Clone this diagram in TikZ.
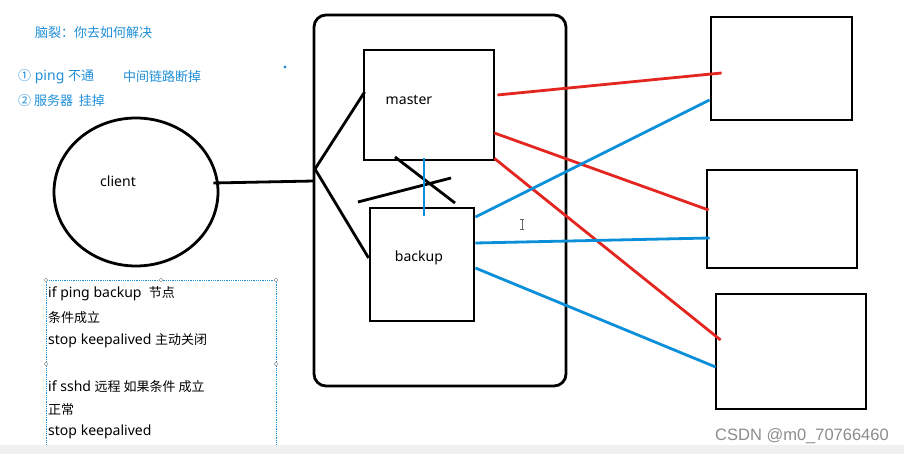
\documentclass[tikz,border=0pt]{standalone}
\usepackage{fontspec}
\setmainfont{Noto Sans}[Scale=1.08]
\newfontfamily\zhfont{Noto Sans CJK SC}
\newcommand\zh[1]{{\zhfont #1}}
\newfontfamily\wmfont{Liberation Sans}
\usepackage{xcolor}
\usetikzlibrary{shapes.geometric}
\definecolor{linkred}{HTML}{E3261F}
\definecolor{linkblue}{HTML}{0B8FD9}
\definecolor{noteblue}{HTML}{1F8FD8}

\begin{document}
\begin{tikzpicture}[x=1pt,y=-1pt,
  box/.style={draw, line width=2.8pt, inner sep=0pt},
  redlink/.style={draw=linkred, line width=2.8pt},
  bluelink/.style={draw=linkblue, line width=2.8pt},
  blackline/.style={line width=2.8pt},
  note/.style={text=noteblue, font=\fontsize{13}{15}\selectfont, anchor=west, inner sep=0pt},
  memo/.style={font=\fontsize{13}{15}\selectfont, anchor=west, inner sep=0pt},
  tag/.style={font=\fontsize{13}{15}\selectfont, inner sep=0pt}]
\useasboundingbox (0,0) rectangle (904,454);
\fill [white] (0,0) rectangle (904,454);

%%memo at the top left
\node [note] (title) at (35,33) {\zh{脑裂：你去如何解决}};
\node [note] (case1) at (18,77) {\zh{①} ping \zh{不通}};
\node [note] (case1b) at (123,77) {\zh{中间链路断掉}};
\node [note] (case2) at (18,101) {\zh{② 服务器\ \ 挂掉}};
\fill [noteblue] (285,67) circle (1.6);
   %a stray dot

%%the cluster
\node [box, rounded corners=12pt, minimum width=252pt, minimum height=371pt] (group) at (440,200.5) {};
   %the big rounded frame
\node [box, minimum width=130pt, minimum height=110pt] (master) at (429,105) {};
\node [box, minimum width=104pt, minimum height=113pt] (backup) at (422,264.5) {};
\node [tag] (mastertxt) at (409,100) {master};
\node [tag] (backuptxt) at (419,258) {backup};

%%client
\node [box, ellipse, minimum width=164pt, minimum height=148pt] (client) at (136,192) {};
\node [tag] (clienttxt) at (118,181) {client};
\coordinate (fork) at (315,169);
\draw [blackline] ([shift={(-6,-9)}]client.east) -- ([shift={(1,-19.5)}]group.west);
\draw [blackline] ([shift={(2,-13)}]master.west) -- (fork) -- ([shift={(0,-6.5)}]backup.west);
   %the fork from client to master and backup
\draw [blackline] (395,157) -- (455,203);
\draw [blackline] (358,202) -- (451,178);
   %the crossed-out heartbeat
\draw [bluelink] ([shift={(-5,-3)}]master.south) -- ([shift={(2,9)}]backup.north);

%%servers on the right
\node [box, minimum width=141pt, minimum height=103pt] (srv1) at (781.5,68.5) {};
\node [box, minimum width=150pt, minimum height=98pt] (srv2) at (782,219) {};
\node [box, minimum width=150pt, minimum height=115pt] (srv3) at (791,351.5) {};
\draw [redlink] ([shift={(2,-10)}]master.east) -- ([shift={(12,4.5)}]srv1.west);
\draw [redlink] ([shift={(-1,28)}]master.east) -- ([shift={(3,-9)}]srv2.west);
\draw [redlink] ([shift={(-1,-3)}]master.south east) -- ([shift={(6,-11.5)}]srv3.west);
   %red links from master
\draw [bluelink] ([shift={(0,-47.5)}]backup.east) -- ([shift={(0,31.5)}]srv1.west);
\draw [bluelink] ([shift={(0,-21.5)}]backup.east) -- ([shift={(4,19)}]srv2.west);
\draw [bluelink] ([shift={(0,3.5)}]backup.east) -- ([shift={(1,15.5)}]srv3.west);
   %blue links from backup
\draw [black!60, line width=0.8pt] (522,219) -- (522,229) (520,219) -- (524,219) (520,229) -- (524,229);
   %mouse cursor

%%script note at the bottom left
\draw [noteblue, densely dotted, line width=0.8pt] (46,280) rectangle (276,448);
\foreach \p in {(46,280),(161,280),(276,280),(46,364),(276,364)}
  \draw [black!50, fill=white, line width=0.4pt] \p circle (1.8);
\node [memo] (m1) at (48,294) {if ping backup\ \ \zh{节点}};
\node [memo] (m2) at (48,318) {\zh{条件成立}};
\node [memo] (m3) at (48,341) {stop keepalived \zh{主动关闭}};
\node [memo] (m4) at (48,387) {if sshd \zh{远程 如果条件 成立}};
\node [memo] (m5) at (48,410) {\zh{正常}};
\node [memo] (m6) at (48,432) {stop keepalived};

%%bottom strip and mark
\fill [black!6] (0,445) rectangle (904,454);
\node [font=\wmfont\fontsize{16.5}{18}\selectfont, text=black!45, anchor=east, inner sep=0pt] (mark) at (889,436) {CSDN @m0\_70766460};
\end{tikzpicture}
\end{document}
